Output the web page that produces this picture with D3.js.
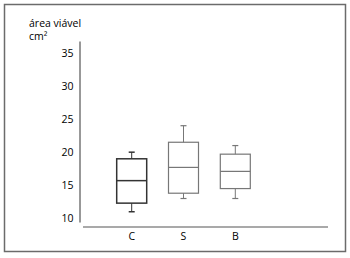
<!DOCTYPE html>
<html><head><meta charset="utf-8">
<script src="https://cdn.jsdelivr.net/npm/d3@7"></script>
<style>
html,body{margin:0;padding:0;background:#fff;}
svg{display:block;font-family:"Open Sans",sans-serif;}
</style></head>
<body>
<svg id="c" width="350" height="258"></svg>
<script>
const categories = ["C","S","B"];
const whiskerLow  = [11.0, 13.0, 13.0];
const q1          = [12.3, 13.8, 14.5];
const median      = [15.7, 17.7, 17.1];
const q3          = [19.0, 21.5, 19.7];
const whiskerHigh = [20.0, 24.0, 21.0];
const yTicks = [10,15,20,25,30,35];
const yTitle = ["área viável","cm²"];

const svg = d3.select("#c");
svg.append("rect").attr("x",4.5).attr("y",4.5).attr("width",341).attr("height",247)
  .attr("fill","none").attr("stroke","#6b6b6b").attr("stroke-width",1.5);

const y = d3.scaleLinear().domain([9.45,36.8]).range([222,41]);
const x = d3.scalePoint().domain(categories).range([131.7,235.3]);

const ya = svg.append("g").attr("transform","translate(79.5,0)")
  .call(d3.axisLeft(y).tickValues(yTicks).tickSize(0).tickPadding(6).tickSizeOuter(0));
ya.select(".domain").attr("stroke","#333").attr("stroke-width",1);
ya.selectAll("text").attr("font-size",10.5).attr("fill","#000").attr("font-weight",500)
  .attr("font-family","Open Sans, sans-serif");

svg.append("line").attr("x1",83).attr("x2",328).attr("y1",227).attr("y2",227)
  .attr("stroke","#555").attr("stroke-width",1.2);
svg.selectAll(".xl").data(categories).enter().append("text")
  .attr("x",d=>x(d)).attr("y",239.5).attr("text-anchor","middle")
  .attr("font-size",10.5).attr("font-weight",500).attr("fill","#000").text(d=>d);

svg.selectAll(".tt").data(yTitle).enter().append("text")
  .attr("x",29).attr("y",(d,i)=>27+i*12.5).attr("font-size",10.5).attr("fill","#000").text(d=>d);

const bw = 30, cap = 6;
const data = categories.map((c,i)=>({c,lo:whiskerLow[i],q1:q1[i],med:median[i],q3:q3[i],hi:whiskerHigh[i]}));
const g = svg.selectAll(".box").data(data).enter().append("g")
  .attr("stroke",(d,i)=>i===0?"#333":"#777")
  .attr("stroke-width",(d,i)=>i===0?1.5:1.2).attr("fill","none");
g.append("line").attr("x1",d=>x(d.c)).attr("x2",d=>x(d.c)).attr("y1",d=>y(d.hi)).attr("y2",d=>y(d.q3)).attr("stroke-width",1);
g.append("line").attr("x1",d=>x(d.c)).attr("x2",d=>x(d.c)).attr("y1",d=>y(d.q1)).attr("y2",d=>y(d.lo)).attr("stroke-width",1);
g.append("line").attr("x1",d=>x(d.c)-cap/2).attr("x2",d=>x(d.c)+cap/2).attr("y1",d=>y(d.hi)).attr("y2",d=>y(d.hi));
g.append("line").attr("x1",d=>x(d.c)-cap/2).attr("x2",d=>x(d.c)+cap/2).attr("y1",d=>y(d.lo)).attr("y2",d=>y(d.lo));
g.append("rect").attr("x",d=>x(d.c)-bw/2).attr("width",bw)
  .attr("y",d=>y(d.q3)).attr("height",d=>y(d.q1)-y(d.q3));
g.append("line").attr("x1",d=>x(d.c)-bw/2).attr("x2",d=>x(d.c)+bw/2).attr("y1",d=>y(d.med)).attr("y2",d=>y(d.med));
</script>
</body></html>
